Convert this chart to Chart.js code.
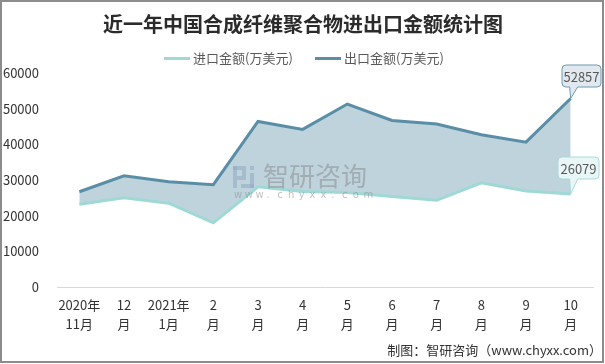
<!DOCTYPE html>
<html lang="zh">
<head>
<meta charset="UTF-8">
<title>近一年中国合成纤维聚合物进出口金额统计图</title>
<script src="https://cdn.jsdelivr.net/npm/chart.js"></script>
<style>
    html, body { margin: 0; padding: 0; background: #ffffff; }
    #wrap { width: 605px; height: 364px; position: relative; }
</style>
</head>
<body>
<div id="wrap"><canvas id="chart" width="605" height="364"></canvas></div>
<script>
// data
const months = [['2020年', '11月'], ['12', '月'], ['2021年', '1月'], ['2', '月'], ['3', '月'], ['4', '月'],
    ['5', '月'], ['6', '月'], ['7', '月'], ['8', '月'], ['9', '月'], ['10', '月']];
const importValues = [23200, 25000, 23500, 18000, 28100, 26800, 26500, 25400, 24300, 29200, 26900, 26079];
const exportValues = [26700, 31200, 29500, 28700, 46400, 44200, 51300, 46700, 45700, 42700, 40600, 52857];
const yTicks = [0, 10000, 20000, 30000, 40000, 50000, 60000];

const titleText = '近一年中国合成纤维聚合物进出口金额统计图';
const fontCJK = '"Noto Sans CJK SC", "Noto Sans", sans-serif';
const importColor = '#9fd9d5';
const exportColor = '#5a8ea6';
const areaColor = '#bed3dc';

// title, legend, callouts, watermark, footer, border
const extras = {
    id: 'extras',
    beforeDraw(chart) {
        const ctx = chart.ctx;
        ctx.save();
        ctx.fillStyle = '#2b2b2b';
        ctx.font = 'bold 20px ' + fontCJK;
        ctx.textAlign = 'center';
        ctx.textBaseline = 'middle';
        ctx.fillText(titleText, 303, 24);

        // legend
        ctx.font = '13px ' + fontCJK;
        ctx.textAlign = 'left';
        const items = [
            { x: 164, color: importColor, text: chart.data.datasets[0].label },
            { x: 315, color: exportColor, text: chart.data.datasets[1].label }
        ];
        items.forEach(it => {
            ctx.fillStyle = it.color;
            ctx.fillRect(it.x, 57, 26, 3);
            ctx.fillStyle = '#595959';
            ctx.fillText(it.text, it.x + 29, 58);
        });
        ctx.restore();
    },
    afterDatasetsDraw(chart) {
        const ctx = chart.ctx;
        const last = months.length - 1;

        // watermark
        ctx.save();
        ctx.globalAlpha = 0.55;
        ctx.fillStyle = '#8fa9c4';
        ctx.fillRect(233, 166, 9, 4);
        ctx.fillRect(233, 166, 4, 22);
        ctx.fillRect(242, 166, 4, 10);
        ctx.fillRect(237, 176, 9, 4);
        ctx.fillRect(250, 166, 4, 4);
        ctx.fillRect(250, 173, 4, 15);
        ctx.fillRect(241, 184, 13, 4);
        ctx.fillStyle = '#8a8e93';
        ctx.font = '26px ' + fontCJK;
        ctx.textBaseline = 'middle';
        ctx.textAlign = 'left';
        ctx.fillText('智研咨询', 263, 176);
        ctx.font = '10px "DejaVu Sans", sans-serif';
        const wm = 'www.chyxx.com';
        for (let i = 0; i < wm.length; i++) {
            ctx.fillText(wm[i], 234 + i * 10.8, 195);
        }
        ctx.restore();

        const drawCallout = (dsIndex, text, box, fill, stroke) => {
            const pt = chart.getDatasetMeta(dsIndex).data[last];
            ctx.save();
            ctx.beginPath();
            const r = 4;
            const x0 = box.x, y0 = box.y, x1 = box.x + box.w, y1 = box.y + box.h;
            ctx.moveTo(x0 + r, y0);
            ctx.lineTo(x1 - r, y0);
            ctx.quadraticCurveTo(x1, y0, x1, y0 + r);
            ctx.lineTo(x1, y1 - r);
            ctx.quadraticCurveTo(x1, y1, x1 - r, y1);
            ctx.lineTo(pt.x + 7, y1);
            ctx.lineTo(pt.x, pt.y);
            ctx.lineTo(pt.x - 1, y1);
            ctx.lineTo(x0 + r, y1);
            ctx.quadraticCurveTo(x0, y1, x0, y1 - r);
            ctx.lineTo(x0, y0 + r);
            ctx.quadraticCurveTo(x0, y0, x0 + r, y0);
            ctx.closePath();
            ctx.fillStyle = fill;
            ctx.fill();
            ctx.lineWidth = 1;
            ctx.strokeStyle = stroke;
            ctx.stroke();
            ctx.fillStyle = '#595959';
            ctx.font = '13px ' + fontCJK;
            ctx.textAlign = 'center';
            ctx.textBaseline = 'middle';
            ctx.fillText(text, box.x + box.w / 2, box.y + box.h / 2 + 1);
            ctx.restore();
        };
        drawCallout(1, String(exportValues[last]), {x: 562, y: 65, w: 39, h: 22}, '#e1e9ef', '#6d9ab0');
        drawCallout(0, String(importValues[last]), {x: 558, y: 157, w: 41, h: 22}, '#e9f6f6', '#a7dcd9');
    },
    afterDraw(chart) {
        const ctx = chart.ctx;
        ctx.save();
        ctx.fillStyle = '#333333';
        ctx.font = '13px ' + fontCJK;
        ctx.textAlign = 'right';
        ctx.textBaseline = 'middle';
        ctx.fillText('制图：智研咨询（www.chyxx.com）', 602, 350);
        ctx.strokeStyle = '#8c8c8c';
        ctx.lineWidth = 2;
        ctx.strokeRect(1, 1, 602, 361);
        ctx.restore();
    }
};

new Chart(document.getElementById('chart'), {
    type: 'line',
    data: {
        labels: months,
        datasets: [{
            label: '进口金额(万美元)',
            data: importValues,
            borderColor: importColor,
            backgroundColor: importColor,
            borderWidth: 3,
            pointRadius: 0,
            fill: false,
            tension: 0
        }, {
            label: '出口金额(万美元)',
            data: exportValues,
            borderColor: exportColor,
            backgroundColor: areaColor,
            borderWidth: 3,
            pointRadius: 0,
            fill: '-1',
            tension: 0
        }]
    },
    options: {
        responsive: false,
        animation: false,
        layout: { padding: { left: 0, right: 12, bottom: 22, top: 73 } },
        plugins: {
            title: { display: false },
            legend: { display: false },
            tooltip: { enabled: false }
        },
        scales: {
            x: {
                offset: true,
                grid: { display: false, drawTicks: false },
                border: { color: '#d9d9d9', width: 1 },
                ticks: {
                    color: '#333333',
                    font: { family: fontCJK, size: 13, lineHeight: 1.5 },
                    padding: 8,
                    maxRotation: 0,
                    autoSkip: false
                }
            },
            y: {
                min: 0,
                max: 60000,
                grid: { display: false, drawTicks: false },
                border: { display: false },
                afterBuildTicks(scale) {
                    scale.ticks = yTicks.map(v => ({ value: v }));
                },
                afterFit(scale) { scale.width = 57; },
                ticks: {
                    color: '#333333',
                    font: { family: fontCJK, size: 13 },
                    padding: 18,
                    callback: v => String(v)
                }
            }
        }
    },
    plugins: [extras]
});
</script>
</body>
</html>
